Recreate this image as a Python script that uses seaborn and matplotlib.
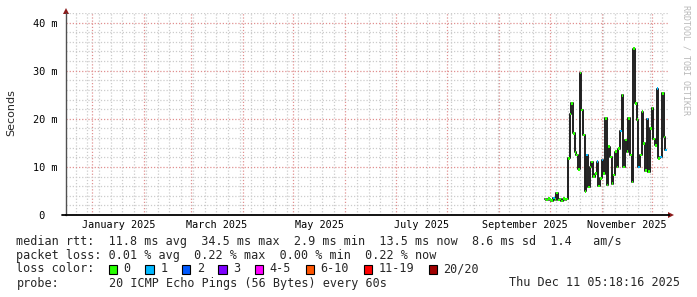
import matplotlib
matplotlib.use("Agg")
import matplotlib.pyplot as plt
import matplotlib.dates as mdates
import matplotlib.ticker as mticker
import matplotlib.transforms as mtrans
from matplotlib.patches import Rectangle
import numpy as np
import pandas as pd
import seaborn as sns

# ---------------- data ----------------
END_TIME = "2025-12-11 05:18:16"
SPAN_DAYS = 360
FIRST_DAY = "2025-09-28"

median_ms = [3.3, 3.1, 3.4, 3.2, 3.0, 3.5, 3.2, 4.6, 3.1, 3.3, 2.9, 3.4, 3.2, 3.3,
             11.8, 21.0, 23.2, 17.0, 13.0, 12.5, 9.5, 29.5, 21.8, 16.6,
             4.9, 12.5, 5.8, 10.0, 11.0, 8.0,
             8.6, 11.1, 6.0, 7.6, 11.4, 8.6, 20.1, 6.2, 14.2, 12.1, 6.5, 8.3,
             13.2, 10.0, 13.8, 17.5, 24.9, 10.0, 15.6, 13.2, 20.1, 12.5, 6.9,
             34.6, 23.2, 19.8, 10.0, 12.5, 21.5, 14.9, 9.2, 20.0, 9.0, 18.0, 22.2,
             15.8, 14.5, 26.3, 11.8, 12.1, 25.3, 16.2, 13.5]
loss_pings = [0, 0, 0, 0, 0, 1, 0, 0, 0, 0, 0, 0, 0, 0,
              0, 0, 0, 0, 0, 0, 0, 0, 0, 0,
              0, 1, 0, 0, 0, 0,
              0, 1, 0, 0, 1, 0, 0, 0, 0, 0, 0, 0,
              0, 0, 0, 1, 0, 0, 0, 0, 0, 0, 0,
              0, 0, 0, 1, 0, 0, 0, 0, 1, 0, 0, 0,
              0, 0, 1, 0, 1, 0, 0, 1]

y_tick_values = [0, 10, 20, 30, 40]
y_tick_labels = [" 0  ", "10 m", "20 m", "30 m", "40 m"]
month_label_starts = ["2025-01-01", "2025-03-01", "2025-05-01",
                      "2025-07-01", "2025-09-01", "2025-11-01"]

loss_labels = ["0", "1", "2", "3", "4-5", "6-10", "11-19", "20/20"]
loss_colors = ["#26ff00", "#00b8ff", "#0059ff", "#7e00ff",
               "#ff00ff", "#ff5500", "#ff0000", "#a00000"]

line_rtt = "median rtt:  11.8 ms avg  34.5 ms max  2.9 ms min  13.5 ms now  8.6 ms sd  1.4   am/s"
line_loss = "packet loss: 0.01 % avg  0.22 % max  0.00 % min  0.22 % now"
line_color = "loss color:"
line_probe = "probe:"
probe_text = "20 ICMP Echo Pings (56 Bytes) every 60s"
stamp_text = "Thu Dec 11 05:18:16 2025"
watermark = "RRDTOOL / TOBI OETIKER"

# ---------------- figure ----------------
W, H = 697, 297
sns.set_style("white")
plt.rcParams["font.family"] = ["DejaVu Sans Mono", "DejaVu Sans"]

fig = plt.figure(figsize=(W / 100, H / 100), dpi=100, facecolor="white")
left_px, right_px, top_px, bottom_px = 65.9, 668.9, 13.0, 215.0
ax = fig.add_axes([left_px / W, 1 - bottom_px / H,
                   (right_px - left_px) / W, (bottom_px - top_px) / H])
ax.set_facecolor("white")

end_t = pd.Timestamp(END_TIME)
start_t = end_t - pd.Timedelta(days=SPAN_DAYS)

df = pd.DataFrame({
    "date": pd.date_range(FIRST_DAY, periods=len(median_ms), freq="D"),
    "median": median_ms,
    "loss": loss_pings,
})

ax.set_xlim(start_t, end_t)
ax.set_ylim(0, 42)

# grid
ax.xaxis.set_major_locator(mdates.MonthLocator())
ax.xaxis.set_minor_locator(mdates.WeekdayLocator(byweekday=mdates.SU))
ax.xaxis.set_major_formatter(mticker.NullFormatter())
ax.yaxis.set_major_locator(mticker.FixedLocator(y_tick_values))
ax.yaxis.set_minor_locator(mticker.MultipleLocator(2))
ax.set_yticklabels(y_tick_labels)

ax.grid(which="minor", color="#cccccc", linestyle=(0, (1, 1.5)), linewidth=0.9)
ax.grid(which="major", color="#e09090", linestyle=(0, (1, 1.5)), linewidth=0.9)
ax.set_axisbelow(True)

ax.tick_params(axis="y", which="major", length=3, color="#e09090", pad=3,
               labelsize=7.4, labelcolor="black")
ax.tick_params(axis="y", which="minor", length=0)
ax.tick_params(axis="x", which="major", length=3, color="#e09090")
ax.tick_params(axis="x", which="minor", length=2, color="#c0c0c0")
for lab in ax.get_yticklabels():
    lab.set_fontfamily("DejaVu Sans Mono")

for s in ["top", "right"]:
    ax.spines[s].set_visible(False)
ax.spines["left"].set_color("#505050")
ax.spines["left"].set_linewidth(1.0)
ax.spines["bottom"].set_color("black")
ax.spines["bottom"].set_linewidth(1.3)

# median line (dark) and loss-coloured median bands
sns.lineplot(data=df, x="date", y="median", drawstyle="steps-post",
             color="#202020", linewidth=1.4, ax=ax, legend=False)
sw = 1.3 / 4.81
bar_colors = [loss_colors[l] for l in df["loss"]]
ax.bar(df["date"], height=2 * sw, bottom=df["median"] - sw, width=1.0,
       align="edge", color=bar_colors, edgecolor="none", zorder=3)
ax.set_xlabel("")
ax.set_ylabel("")

# month labels centred on the month
blend = mtrans.blended_transform_factory(ax.transData, ax.transAxes)
for m in month_label_starts:
    m0 = pd.Timestamp(m)
    m1 = m0 + pd.offsets.MonthBegin(1)
    mid = m0 + (m1 - m0) / 2
    ax.text(mdates.date2num(mid), -9.5 / (bottom_px - top_px),
            m0.strftime("%B %Y"), transform=blend, ha="center", va="center",
            fontsize=7.3, family="DejaVu Sans Mono", color="black")

# axis arrows
ax.plot([-4 / (right_px - left_px), 0], [0, 0], transform=ax.transAxes,
        color="black", lw=1.3, clip_on=False)
ax.plot(1 + 2.5 / (right_px - left_px), 0, marker=">", ms=4.5, color="#8b1a1a",
        transform=ax.transAxes, clip_on=False, markeredgewidth=0)
ax.plot(0, 1 + 2.5 / (bottom_px - top_px), marker="^", ms=4.5, color="#8b1a1a",
        transform=ax.transAxes, clip_on=False, markeredgewidth=0)


def fx(x):
    return x / W


def fy(y):
    return 1 - y / H


fig.text(fx(11), fy(113), "Seconds", rotation=90, ha="center", va="center",
         fontsize=8, family="DejaVu Sans")
fig.text(fx(686), fy(60), watermark, rotation=270, ha="center", va="center",
         fontsize=6, family="DejaVu Sans Mono", color="#b8b8b8")

# legend / statistics block
fs = 8.5
cw = 7.1
x0 = 16.4
rows = [241, 255, 269, 283]
fig.text(fx(x0), fy(rows[0]), line_rtt, ha="left", va="center", fontsize=fs)
fig.text(fx(x0), fy(rows[1]), line_loss, ha="left", va="center", fontsize=fs)
fig.text(fx(x0), fy(rows[2]), line_color, ha="left", va="center", fontsize=fs)
k = 13.0
for lab, col in zip(loss_labels, loss_colors):
    xs = x0 + k * cw
    fig.patches.append(Rectangle((fx(xs), fy(rows[2] + 4.5)), 8.5 / W, 9 / H,
                                 transform=fig.transFigure, facecolor=col,
                                 edgecolor="black", linewidth=0.8))
    fig.text(fx(x0 + (k + 2.1) * cw), fy(rows[2]), lab, ha="left", va="center",
             fontsize=fs)
    k += 2.1 + len(lab) + 2.05
fig.text(fx(x0), fy(rows[3]), line_probe, ha="left", va="center", fontsize=fs)
fig.text(fx(x0 + 13 * cw), fy(rows[3]), probe_text, ha="left", va="center", fontsize=fs)
fig.text(fx(680), fy(rows[3]), stamp_text, ha="right", va="center", fontsize=fs)

fig.savefig("out.png", dpi=100, facecolor="white")
